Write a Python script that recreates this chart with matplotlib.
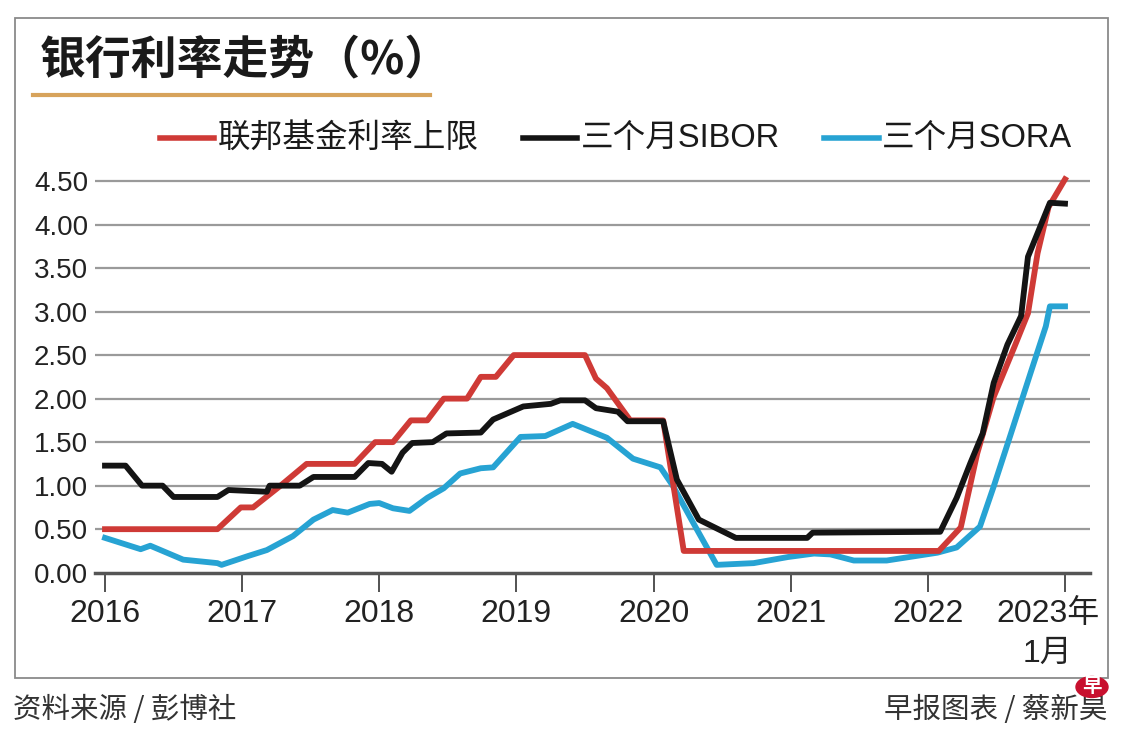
import matplotlib

matplotlib.use("Agg")
import matplotlib.pyplot as plt
from matplotlib.lines import Line2D
from matplotlib.patches import Circle, Rectangle

CJK = ["Noto Sans CJK SC", "DejaVu Sans"]
LAT = ["Liberation Sans", "Noto Sans CJK SC", "DejaVu Sans"]

# --- data: (decimal year, %) breakpoints ---
fed_x = [2016.0, 2016.82, 2016.99, 2017.08, 2017.28, 2017.47, 2017.82, 2017.97, 2018.10, 2018.23,
         2018.35, 2018.47, 2018.64, 2018.74, 2018.85, 2018.98, 2019.50, 2019.58, 2019.66, 2019.83,
         2020.07, 2020.22, 2022.08, 2022.24, 2022.36, 2022.48, 2022.63, 2022.73, 2022.80, 2022.88,
         2023.0]
fed_y = [0.5, 0.5, 0.75, 0.75, 1.0, 1.25, 1.25, 1.5, 1.5, 1.75,
         1.75, 2.0, 2.0, 2.25, 2.25, 2.5, 2.5, 2.23, 2.12, 1.75,
         1.75, 0.25, 0.25, 0.52, 1.37, 2.02, 2.59, 2.98, 3.67, 4.2,
         4.52]

sibor_x = [2016.0, 2016.15, 2016.27, 2016.42, 2016.5, 2016.82, 2016.9, 2017.18, 2017.2, 2017.42,
           2017.52, 2017.82, 2017.92, 2018.02, 2018.09, 2018.17, 2018.24, 2018.39, 2018.49, 2018.74,
           2018.83, 2019.05, 2019.25, 2019.32, 2019.5, 2019.58, 2019.74, 2019.81, 2020.07, 2020.17,
           2020.33, 2020.6, 2021.12, 2021.16, 2022.09, 2022.21, 2022.31, 2022.40, 2022.48, 2022.58,
           2022.68, 2022.73, 2022.81, 2022.89, 2023.0]
sibor_y = [1.23, 1.23, 1.0, 1.0, 0.87, 0.87, 0.95, 0.93, 1.0, 1.0,
           1.1, 1.1, 1.26, 1.25, 1.16, 1.38, 1.49, 1.5, 1.6, 1.61,
           1.76, 1.91, 1.94, 1.98, 1.98, 1.89, 1.85, 1.74, 1.74, 1.07,
           0.61, 0.40, 0.40, 0.46, 0.47, 0.86, 1.26, 1.6, 2.18, 2.62,
           2.95, 3.63, 3.94, 4.25, 4.24]

sora_x = [2016.0, 2016.26, 2016.33, 2016.57, 2016.82, 2016.85, 2017.04, 2017.18, 2017.37, 2017.52,
          2017.66, 2017.77, 2017.93, 2018.0, 2018.1, 2018.22, 2018.35, 2018.47, 2018.59, 2018.74,
          2018.83, 2019.03, 2019.21, 2019.41, 2019.66, 2019.85, 2020.05, 2020.14, 2020.29, 2020.46,
          2020.73, 2020.98, 2021.17, 2021.29, 2021.46, 2021.7, 2022.07, 2022.21, 2022.38, 2022.48,
          2022.6, 2022.75, 2022.86, 2022.89, 2023.0]
sora_y = [0.40, 0.27, 0.31, 0.15, 0.11, 0.09, 0.19, 0.26, 0.42, 0.61,
          0.72, 0.69, 0.79, 0.80, 0.74, 0.71, 0.86, 0.97, 1.14, 1.2,
          1.21, 1.56, 1.57, 1.71, 1.55, 1.31, 1.21, 1.0, 0.57, 0.09,
          0.11, 0.18, 0.22, 0.21, 0.14, 0.14, 0.23, 0.29, 0.53, 0.99,
          1.57, 2.3, 2.83, 3.06, 3.06]

series_names = ["联邦基金利率上限", "三个月SIBOR", "三个月SORA"]
year_ticks = [2016, 2017, 2018, 2019, 2020, 2021, 2022, 2023]
year_labels = ["2016", "2017", "2018", "2019", "2020", "2021", "2022", ""]
y_ticks = [0, 0.5, 1.0, 1.5, 2.0, 2.5, 3.0, 3.5, 4.0, 4.5]

RED, BLACK, BLUE = "#cf3a36", "#141414", "#27a3d3"
W, H = 1140, 746


def fx(px):
    return px / W


def fy(py):
    return 1 - py / H


fig = plt.figure(figsize=(W / 100, H / 100), dpi=100)
fig.patch.set_facecolor("white")

# outer frame
fig.add_artist(Rectangle((fx(15), fy(678)), fx(1108) - fx(15), fy(18) - fy(678),
                         transform=fig.transFigure, fill=False, ec="#8a8a8a", lw=1.3))

ax = fig.add_axes([fx(95), fy(572.7), fx(1090) - fx(95), fy(172.3) - fy(572.7)])
ax.set_xlim(2016 - 10 / 137.14, 2023 + 25 / 137.14)
ax.set_ylim(0, 4.6)

for v in y_ticks[1:]:
    ax.axhline(v, color="#9a9a9a", lw=1.6, zorder=1)

ax.plot(sora_x, sora_y, color=BLUE, lw=4.2, solid_joinstyle="round", zorder=3)
ax.plot(fed_x, fed_y, color=RED, lw=4.2, solid_joinstyle="round", zorder=4)
ax.plot(sibor_x, sibor_y, color=BLACK, lw=4.2, solid_joinstyle="round", zorder=5)

for s in ["top", "right", "left"]:
    ax.spines[s].set_visible(False)
ax.spines["bottom"].set_color("#555555")
ax.spines["bottom"].set_linewidth(2.5)

ax.set_yticks(y_ticks)
ax.set_yticklabels([f"{v:.2f}" for v in y_ticks], fontfamily=LAT, fontsize=20, color="#222222")
ax.tick_params(axis="y", length=0, pad=5)
ax.set_xticks(year_ticks)
ax.set_xticklabels(year_labels, fontfamily=LAT, fontsize=23, color="#222222")
ax.tick_params(axis="x", length=14, width=1.3, color="#444444", pad=5)
ax.text(2023 - 17 / 137.14, -0.30, "2023年\n1月", ha="center", va="top", fontsize=23,
        fontfamily=LAT, color="#222222", linespacing=1.45, clip_on=False)

# title + underline
fig.text(fx(40), fy(60), "银行利率走势（%）", fontsize=33, fontweight="bold", family=CJK,
         color="#1a1a1a", ha="left", va="center")
fig.add_artist(Line2D([fx(33), fx(430)], [fy(95), fy(95)], color="#d7a35b", lw=3,
                      transform=fig.transFigure))

# legend
legend_items = [(RED, 160, 214, 218), (BLACK, 523, 577, 581), (BLUE, 824, 879, 882)]
for (c, x0, x1, tx), name in zip(legend_items, series_names):
    fig.add_artist(Line2D([fx(x0), fx(x1)], [fy(138), fy(138)], color=c, lw=4,
                          transform=fig.transFigure))
    fig.text(fx(tx), fy(138), name, fontsize=23.5, family=LAT, color="#1a1a1a",
             ha="left", va="center")

# footer
fig.text(fx(13), fy(710), "资料来源 / 彭博社", fontsize=20.5, family=CJK, color="#333333",
         ha="left", va="center")
fig.text(fx(1107), fy(710), "早报图表 / 蔡新昊", fontsize=20.5, family=CJK, color="#333333",
         ha="right", va="center")
fig.add_artist(Circle((fx(1092), fy(687)), 16 / W, transform=fig.transFigure,
                      color="#c8102e", zorder=10))
fig.text(fx(1092), fy(686), "早", fontsize=14, fontweight="bold", family=CJK, color="white",
         ha="center", va="center", zorder=11)

fig.savefig("out.png", dpi=100, facecolor="white")
